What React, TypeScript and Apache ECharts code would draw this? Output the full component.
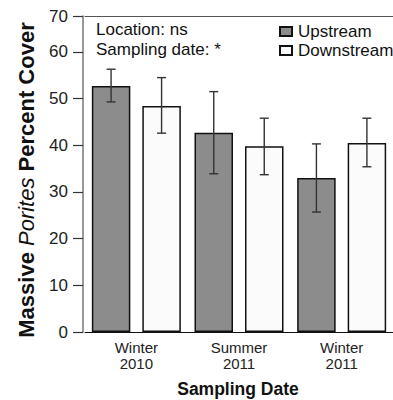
import React, { useEffect, useRef } from "react";
import * as echarts from "echarts";

const categories = ["Winter\n2010", "Summer\n2011", "Winter\n2011"];
const upstream = [52.7, 42.7, 33.0];
const downstream = [48.4, 39.8, 40.5];
const upstreamErrLow = [49.3, 33.9, 25.7];
const upstreamErrHigh = [56.3, 51.5, 40.3];
const downstreamErrLow = [42.6, 33.7, 35.4];
const downstreamErrHigh = [54.5, 45.8, 45.8];
const yTicksTopLabel = "70";

const FONT = "'Liberation Sans', Arial, sans-serif";
const BAR_W = 38.5;
const GAP = 12;

export default function App() {
  const ref = useRef<HTMLDivElement>(null);
  useEffect(() => {
    if (!ref.current) return;
    const chart = echarts.init(ref.current, null, { renderer: "svg" });

    const errData: number[][] = [];
    categories.forEach((_, i) => {
      errData.push([i, upstreamErrLow[i], upstreamErrHigh[i], 0]);
      errData.push([i, downstreamErrLow[i], downstreamErrHigh[i], 1]);
    });

    const option: any = {
      animation: false,
      grid: { left: 85, right: 0, top: 16, bottom: 68 },
      textStyle: { fontFamily: FONT },
      legend: {
        orient: "vertical",
        left: 274,
        top: 18,
        icon: "rect",
        itemWidth: 12,
        itemHeight: 9,
        itemGap: 2,
        textStyle: { fontSize: 17, lineHeight: 17, color: "#111", fontFamily: FONT, padding: [0, 0, 0, 1] },
        data: ["Upstream", "Downstream"],
      },
      xAxis: [
        {
          type: "category",
          data: categories,
          axisLine: { show: true, lineStyle: { color: "#111", width: 1.2 } },
          axisTick: { show: false },
          axisLabel: { fontSize: 15, lineHeight: 16, color: "#222", margin: 7, fontFamily: FONT },
        },
        {
          type: "category",
          position: "top",
          data: categories,
          axisLine: { show: true, onZero: false, lineStyle: { color: "#555", width: 1.2 } },
          axisTick: { show: false },
          axisLabel: { show: false },
        },
      ],
      yAxis: {
        type: "value",
        min: 0,
        max: 67.7,
        interval: 10,
        offset: 2,
        axisLine: { show: true, lineStyle: { color: "#777", width: 1.5 } },
        axisTick: { show: true, length: 10, lineStyle: { color: "#333", width: 1.2 } },
        splitLine: { show: false },
        axisLabel: {
          fontSize: 17,
          color: "#222",
          margin: 15,
          fontFamily: FONT,
          showMaxLabel: true,
          formatter: (v: number) => (v > 65 ? yTicksTopLabel : String(v)),
        },
      },
      series: [
        {
          name: "Upstream",
          type: "bar",
          data: upstream,
          barWidth: BAR_W,
          barGap: (GAP / BAR_W) * 100 + "%",
          itemStyle: { color: "#8c8c8c", borderColor: "#111", borderWidth: 1.5 },
        },
        {
          name: "Downstream",
          type: "bar",
          data: downstream,
          barWidth: BAR_W,
          itemStyle: { color: "#fbfbfb", borderColor: "#111", borderWidth: 1.5 },
        },
        {
          type: "custom",
          data: errData,
          z: 10,
          renderItem: (params: any, api: any) => {
            const idx = api.value(0);
            const lo = api.coord([idx, api.value(1)]);
            const hi = api.coord([idx, api.value(2)]);
            const off = ((BAR_W + GAP) / 2) * (api.value(3) === 0 ? -1 : 1);
            const x = lo[0] + off;
            const cap = 4.5;
            const st = { stroke: "#333", lineWidth: 1.4 };
            return {
              type: "group",
              children: [
                { type: "line", shape: { x1: x, y1: lo[1], x2: x, y2: hi[1] }, style: st },
                { type: "line", shape: { x1: x - cap, y1: lo[1], x2: x + cap, y2: lo[1] }, style: st },
                { type: "line", shape: { x1: x - cap, y1: hi[1], x2: x + cap, y2: hi[1] }, style: st },
              ],
            };
          },
        },
      ],
      graphic: [
        {
          type: "text",
          x: 96,
          y: 29,
          style: { text: "Location: ns", fontSize: 17, fontFamily: FONT, fill: "#111", verticalAlign: "middle" },
        },
        {
          type: "text",
          x: 96,
          y: 49,
          style: { text: "Sampling date: *", fontSize: 17, fontFamily: FONT, fill: "#111", verticalAlign: "middle" },
        },
        {
          type: "text",
          x: 238,
          y: 389,
          style: {
            text: "Sampling Date",
            fontSize: 17.5,
            fontWeight: "bold",
            fontFamily: FONT,
            fill: "#111",
            align: "center",
            verticalAlign: "middle",
          },
        },
        {
          type: "text",
          x: 26,
          y: 180,
          rotation: Math.PI / 2,
          style: {
            text: "{b|Massive }{i|Porites}{b| Percent Cover}",
            align: "center",
            verticalAlign: "middle",
            fontFamily: FONT,
            fontSize: 22,
            fill: "#111",
            rich: {
              b: { fontWeight: "bold", fontSize: 22, fontFamily: FONT, fill: "#111" },
              i: { fontStyle: "italic", fontSize: 22, fontFamily: FONT, fill: "#111" },
            },
          },
        },
      ],
    };
    chart.setOption(option);
    return () => chart.dispose();
  }, []);
  return (
    <div
      ref={ref}
      style={{ position: "fixed", left: 0, top: 0, width: 393, height: 400, background: "#fff" }}
    />
  );
}
